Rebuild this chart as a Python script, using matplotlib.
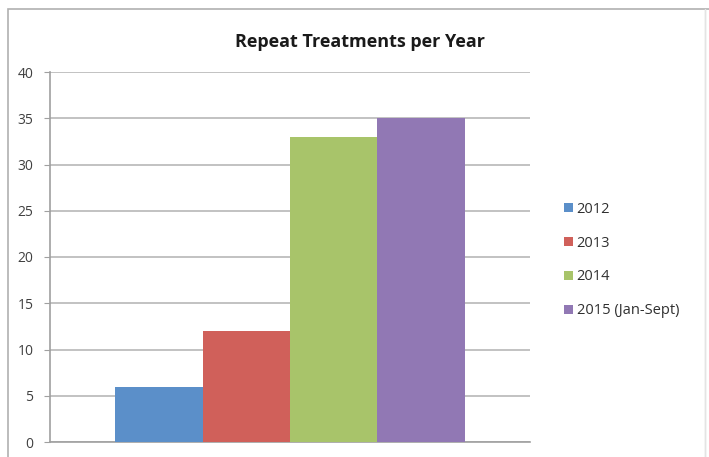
import matplotlib
matplotlib.use("Agg")
import matplotlib.pyplot as plt
from matplotlib.patches import Rectangle
import numpy as np

title = "Repeat Treatments per Year"
series_names = ["2012", "2013", "2014", "2015 (Jan-Sept)"]
values = [6, 12, 33, 35]
colors = ["#5b8fc9", "#d0605a", "#a8c46a", "#9178b4"]
yticks = [0, 5, 10, 15, 20, 25, 30, 35, 40]

plt.rcParams['font.family'] = ['Open Sans', 'DejaVu Sans']

W, H = 709, 457
fig = plt.figure(figsize=(W / 100, H / 100), dpi=100)
fig.patches.append(Rectangle((8 / W, -0.01), 1.0, 1 - 9 / H + 0.01, transform=fig.transFigure,
                             fill=False, edgecolor="#b0b0b0", linewidth=1.2))
fig.patches.append(Rectangle((705 / W, -0.01), 0.0, 1 - 9 / H + 0.01, transform=fig.transFigure,
                             fill=False, edgecolor="#e4e4e4", linewidth=1.0))

ax = fig.add_axes([50 / W, 15 / H, 480 / W, 370 / H])
n = len(values)
group = 4 / 5.5
bw = group / n
xs = -group / 2 + bw / 2 + np.arange(n) * bw
handles = []
for x, v, c, name in zip(xs, values, colors, series_names):
    h = ax.bar(x, v, width=bw, color=c, label=name, zorder=3)
    handles.append(h)

ax.set_xlim(-0.5, 0.5)
ax.set_ylim(0, 40)
ax.set_yticks(yticks)
ax.set_xticks([])
ax.grid(axis='y', color="#b8b8b8", linewidth=1.2, zorder=0)
for s in ["top", "right"]:
    ax.spines[s].set_visible(False)
ax.spines["left"].set_color("#a0a0a0")
ax.spines["bottom"].set_color("#a0a0a0")
ax.spines["left"].set_linewidth(1.2)
ax.spines["bottom"].set_linewidth(1.2)
ax.tick_params(axis='y', length=4, color="#a0a0a0", labelsize=10, labelcolor="#404040", pad=8)

fig.text(360 / W, 1 - 42 / H, title, ha="center", va="center",
         fontsize=13, fontweight="bold", color="#1a1a1a")

fig.legend(handles=handles, labels=series_names, loc="center left",
           bbox_to_anchor=(551 / W, 1 - 260 / H), frameon=False, fontsize=10.5,
           handlelength=0.6, handleheight=0.6, handletextpad=0.25, labelspacing=1.3,
           labelcolor="#303030")

fig.savefig("out.png", dpi=100)
